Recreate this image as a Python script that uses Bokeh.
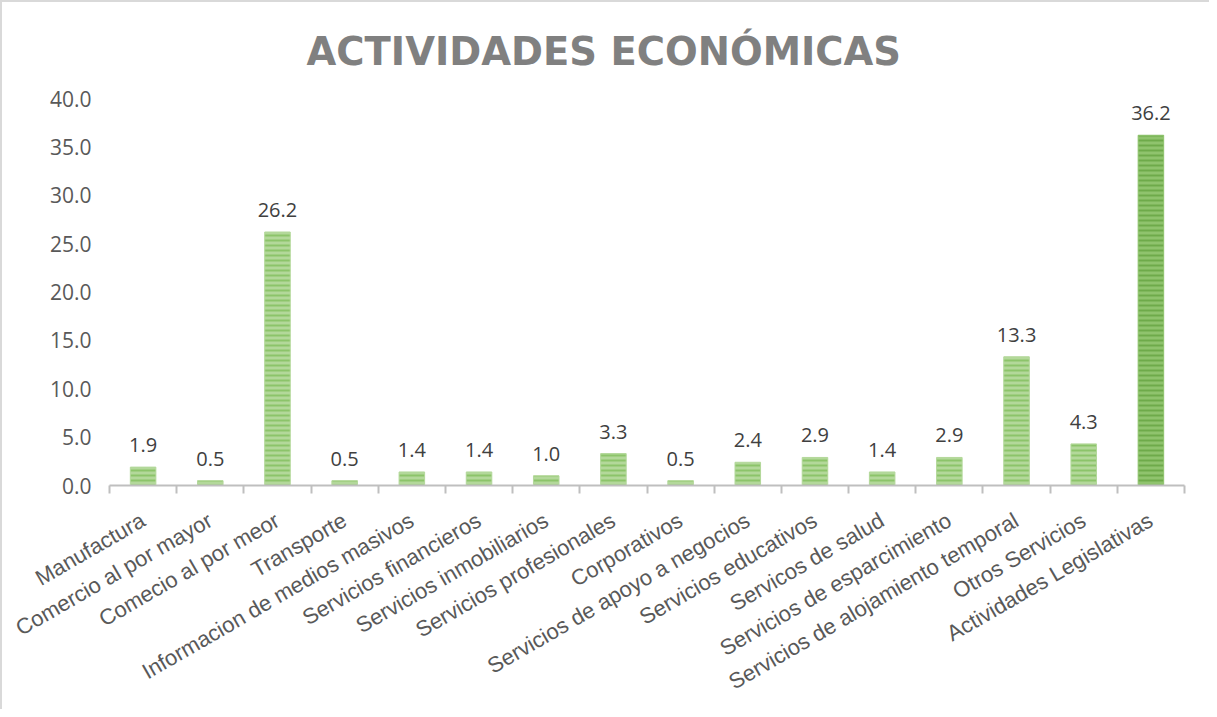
import math
from bokeh.plotting import figure
from bokeh.models import (ColumnDataSource, Range1d, FixedTicker, NumeralTickFormatter,
                          LabelSet, Title)
from bokeh.core.properties import value
from bokeh.embed import file_html
from bokeh.resources import INLINE

categories = [
    "Manufactura", "Comercio al por mayor", "Comecio al por meor", "Transporte",
    "Informacion de medios masivos", "Servicios financieros", "Servicios inmobiliarios",
    "Servicios profesionales", "Corporativos", "Servicios de apoyo a negocios",
    "Servicios educativos", "Servicos de salud", "Servicios de esparcimiento",
    "Servicios de alojamiento temporal", "Otros Servicios", "Actividades Legislativas",
]
values = [1.9, 0.5, 26.2, 0.5, 1.4, 1.4, 1.0, 3.3, 0.5, 2.4, 2.9, 1.4, 2.9, 13.3, 4.3, 36.2]
y_ticks = [0, 5, 10, 15, 20, 25, 30, 35, 40]
title_text = "ACTIVIDADES ECONÓMICAS"

n = len(categories)
xs = [i + 0.5 for i in range(n)]
fills = ["#b3d89a"] * (n - 1) + ["#8fc36d"]
hatches = ["#8cc46a"] * (n - 1) + ["#6eaa4a"]
src = ColumnDataSource(dict(x=xs, top=values, fill=fills, hatch=hatches,
                            lbl=[f"{v:.1f}" for v in values]))

p = figure(width=1209, height=709, output_backend="svg", toolbar_location=None,
           x_range=Range1d(0, n), y_range=Range1d(0, 40),
           min_border_left=107, min_border_right=27, min_border_top=96, min_border_bottom=226)
p.styles = {"border-top": "2px solid #d9d9d9", "border-left": "2px solid #d9d9d9"}
p.outline_line_color = None
p.grid.visible = False
p.background_fill_color = "white"
p.border_fill_color = "white"

p.title = Title(text=title_text, align="left", offset=197, standoff=49,
                text_font="DejaVu Sans", text_font_size="38.5px",
                text_font_style="bold", text_color="#808080")

p.vbar(x="x", top="top", width=0.38, bottom=0, source=src,
       fill_color="fill", line_color="fill", line_width=1,
       hatch_pattern="horizontal_line", hatch_color="hatch",
       hatch_scale=5, hatch_weight=2)

labels = LabelSet(x="x", y="top", text="lbl", source=src, y_offset=15,
                  text_align="center", text_baseline="alphabetic",
                  text_font=value("Open Sans"), text_font_size=value("20px"),
                  text_color="#404040")
p.add_layout(labels)

# x axis
xa = p.xaxis[0]
xa.ticker = FixedTicker(ticks=xs, minor_ticks=list(range(n + 1)))
xa.major_label_overrides = {x: c for x, c in zip(xs, categories)}
xa.major_tick_line_color = None
xa.major_tick_out = 0
xa.major_tick_in = 0
xa.minor_tick_line_color = "#bfbfbf"
xa.minor_tick_line_width = 2
xa.minor_tick_out = 8
xa.minor_tick_in = 0
xa.axis_line_color = "#bfbfbf"
xa.axis_line_width = 2
xa.major_label_orientation = math.pi / 6
xa.major_label_standoff = 25
xa.major_label_text_font = "Liberation Sans"
xa.major_label_text_font_size = "22px"
xa.major_label_text_color = "#595959"

# y axis
ya = p.yaxis[0]
ya.ticker = FixedTicker(ticks=y_ticks)
ya.formatter = NumeralTickFormatter(format="0.0")
ya.axis_line_color = None
ya.major_tick_line_color = None
ya.major_tick_out = 0
ya.major_tick_in = 0
ya.minor_tick_line_color = None
ya.major_label_standoff = 18
ya.major_label_text_font = "Open Sans"
ya.major_label_text_font_size = "21px"
ya.major_label_text_color = "#595959"

open("out.html", "w").write(file_html(p, INLINE))
